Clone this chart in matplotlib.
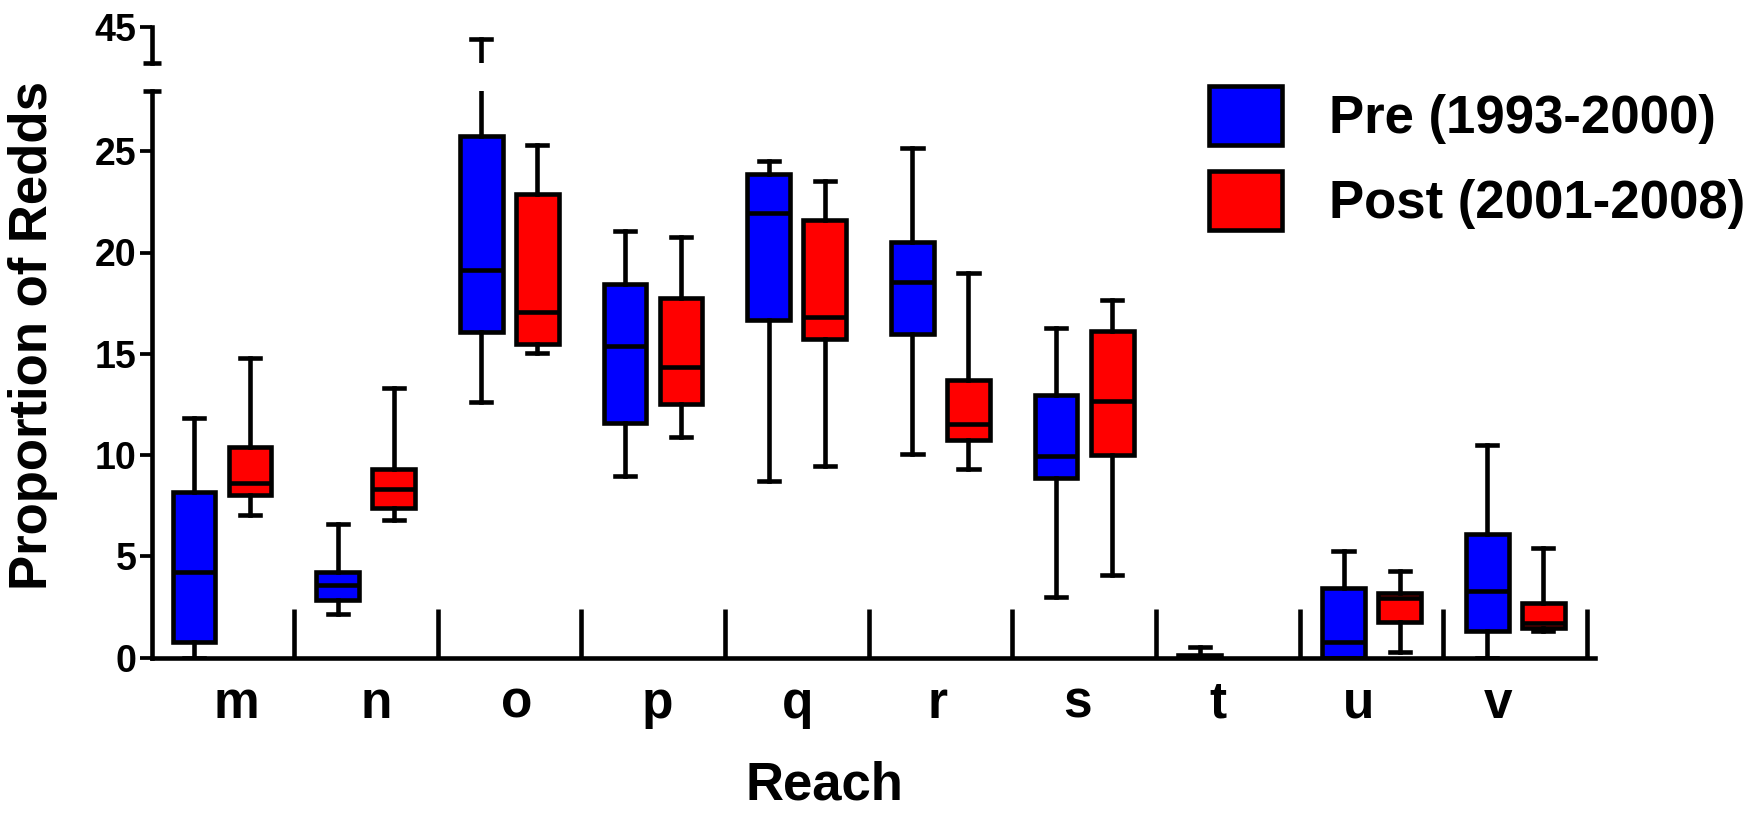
import numpy as np
import matplotlib
matplotlib.use("Agg")
import matplotlib.pyplot as plt
from matplotlib.patches import Patch

plt.rcParams['font.family'] = ['Liberation Sans', 'DejaVu Sans']
plt.rcParams['font.weight'] = 'bold'

reaches = ['m', 'n', 'o', 'p', 'q', 'r', 's', 't', 'u', 'v']

# min / q1 / median / q3 / max
pre_min = [0, 2.13, 12.6, 8.97, 8.72, 10.05, 3.0, 0, 0, 0]
pre_q1 = [0.77, 2.82, 16.08, 11.6, 16.65, 16.0, 8.85, 0, 0, 1.3]
pre_med = [4.23, 3.59, 19.15, 15.38, 21.93, 18.53, 9.95, 0, 0.78, 3.26]
pre_q3 = [8.15, 4.23, 25.77, 18.46, 23.88, 20.5, 12.96, 0.1, 3.44, 6.09]
pre_max = [11.85, 6.6, 44.4, 21.05, 24.53, 25.15, 16.25, 0.53, 5.26, 10.5]

post_min = [7.05, 6.8, 15.05, 10.9, 9.46, 9.29, 4.05, 0, 0.29, 1.32]
post_q1 = [8.03, 7.36, 15.46, 12.5, 15.75, 10.72, 10.0, 0, 1.77, 1.44]
post_med = [8.64, 8.33, 17.05, 14.36, 16.82, 11.53, 12.69, 0, 2.92, 1.69]
post_q3 = [10.4, 9.3, 22.9, 17.74, 21.6, 13.7, 16.1, 0, 3.17, 2.67]
post_max = [14.8, 13.3, 25.3, 20.77, 23.55, 18.99, 17.67, 0, 4.27, 5.4]

BLUE = '#0000ff'
RED = '#ff0000'
LW = 3.3


def stats(lo, q1, med, q3, hi):
    return [dict(whislo=a, q1=b, med=c, q3=d, whishi=e, fliers=[])
            for a, b, c, d, e in zip(lo, q1, med, q3, hi)]


def draw_boxes(ax):
    x = np.arange(len(reaches))
    for st, pos, col in [(stats(pre_min, pre_q1, pre_med, pre_q3, pre_max), x - 0.195, BLUE),
                         (stats(post_min, post_q1, post_med, post_q3, post_max), x + 0.195, RED)]:
        # an all-zero group (t, post) leaves nothing to draw
        keep = [i for i, s in enumerate(st) if s['whishi'] > 0]
        ax.bxp([st[i] for i in keep], positions=pos[keep], widths=0.297, capwidths=0.14,
               patch_artist=True, showfliers=False, manage_ticks=False,
               boxprops=dict(facecolor=col, edgecolor='black', linewidth=LW),
               medianprops=dict(color='black', linewidth=LW),
               whiskerprops=dict(color='black', linewidth=LW),
               capprops=dict(color='black', linewidth=LW))


fig = plt.figure(figsize=(17.58, 8.15), dpi=100)
L, W = 152 / 1758, (1595 - 152) / 1758
ax = fig.add_axes([L, (815 - 657.5) / 815, W, (657.5 - 90.5) / 815])
ax_top = fig.add_axes([L, (815 - 63) / 815, W, (63 - 26.5) / 815])

for a in (ax, ax_top):
    draw_boxes(a)
    a.set_xlim(-0.487, 9.555)
    a.spines['top'].set_visible(False)
    a.spines['right'].set_visible(False)
    a.spines['left'].set_linewidth(LW)
    a.spines['bottom'].set_linewidth(LW)
    a.tick_params(axis='y', which='major', direction='out', length=9, width=2.7,
                  labelsize=27, pad=2)
    a.tick_params(axis='y', which='minor', direction='inout', length=13, width=LW)

# lower part of the broken axis
ax.set_ylim(0, 28)
ax.set_yticks([0, 5, 10, 15, 20, 25])
ax.set_yticks([28], minor=True)
ax.set_xticks(np.arange(len(reaches)) * 0.976 + 0.1)
ax.set_xticklabels(reaches)
ax.set_xticks(np.arange(len(reaches)) + 0.5, minor=True)
ax.tick_params(axis='x', which='major', length=0, labelsize=37, pad=16)
ax.tick_params(axis='x', which='minor', direction='in', length=35, width=LW)

# upper part
ax_top.set_ylim(43.2, 45)
ax_top.set_yticks([45])
ax_top.set_yticks([43.2], minor=True)
ax_top.spines['bottom'].set_visible(False)
ax_top.tick_params(axis='x', which='both', bottom=False, labelbottom=False)

fig.text(33 / 1758, 1 - 336 / 815, 'Proportion of Redds', rotation=90,
         ha='center', va='center', fontsize=38, fontweight='bold')
fig.text(824 / 1758, 1 - 785 / 815, 'Reach', ha='center', va='center',
         fontsize=38, fontweight='bold')

handles = [Patch(facecolor=BLUE, edgecolor='black', linewidth=LW),
           Patch(facecolor=RED, edgecolor='black', linewidth=LW)]
ax.legend(handles, ['Pre (1993-2000)', 'Post (2001-2008)'], loc='upper left',
          bbox_to_anchor=(1209 / 1758, 1 - 86 / 815), bbox_transform=fig.transFigure,
          frameon=False, borderpad=0, borderaxespad=0, fontsize=38,
          handlelength=1.38, handleheight=1.34, handletextpad=0.89, labelspacing=0.5)

fig.savefig('out.png', dpi=100)
